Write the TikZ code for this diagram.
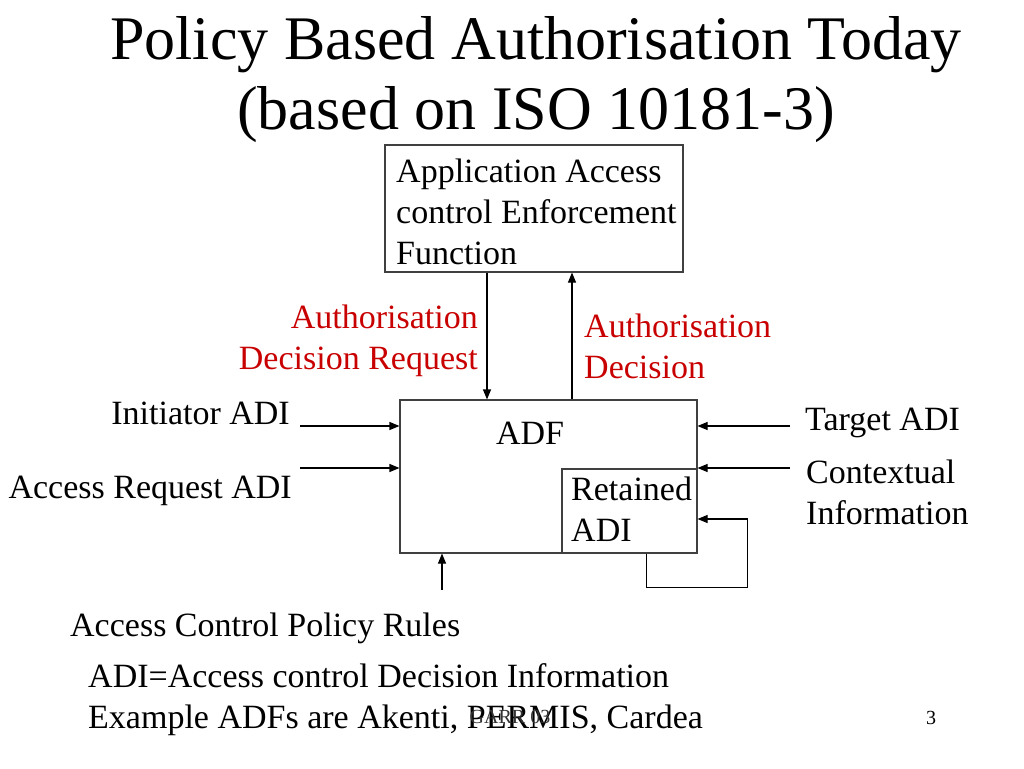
\documentclass[tikz,border=0pt]{standalone}
\usepackage{fontspec}
\setmainfont{Liberation Serif}
\usetikzlibrary{arrows.meta,calc}
\definecolor{adired}{RGB}{200,0,0}

\begin{document}
\begin{tikzpicture}[x=1pt,y=-1pt,>={Triangle[length=10pt,width=8pt]},
    box/.style={draw=black!75, line width=1.1pt, inner sep=0pt},
    txt/.style={inner sep=0pt, font=\fontsize{34}{41}\selectfont},
    red/.style={txt, text=adired},
    link/.style={line width=1.1pt, ->}]
  \useasboundingbox (0,0) rectangle (1024,768);
  \node[align=center, inner sep=0pt, font=\fontsize{62}{70}\selectfont] (title) at (536,80)
    {Policy Based Authorisation Today\\(based on ISO 10181-3)};
  \node[box, minimum width=298pt, minimum height=127pt] (aef) at (534,208.5) {};
  \node[txt, anchor=west, align=left] (aeftxt) at (396,212)
    {Application Access\\control Enforcement\\Function};
  \node[box, minimum width=297pt, minimum height=153pt] (adf) at (548.5,476.5) {};
  \node[txt] (adflbl) at (530,433) {ADF};
  \node[box, minimum width=135pt, minimum height=84pt] (ret) at (629.5,511) {};
  \node[txt, anchor=west, align=left] (rettxt) at (571,509) {Retained\\ADI};
  \node[red, anchor=east, align=right] (req) at (478,341) {Authorisation\\Decision Request};
  \node[red, anchor=west, align=left] (dec) at (584,346) {Authorisation\\Decision};
  \node[txt, anchor=east] (init) at (290,413) {Initiator ADI};
  \node[txt, anchor=east] (accreq) at (292,491) {Access Request ADI};
  \node[txt, anchor=west] (target) at (805,423) {Target ADI};
  \node[txt, anchor=west, align=left] (ctx) at (806,492) {Contextual\\Information};
  \node[txt, anchor=west] (rules) at (70,628) {Access Control Policy Rules};
  \node[txt, anchor=west, align=left] (note) at (88,700)
    {ADI=Access control Decision Information\\Example ADFs are Akenti, PERMIS, Cardea};
  \node[inner sep=0pt, text=black!80, font=\fontsize{20}{24}\selectfont] (foot) at (510,717) {GARR 03};
  \node[inner sep=0pt, font=\fontsize{20}{24}\selectfont] (page) at (931,718) {3};
  % arrows
  \coordinate (ia) at (300,426);
  \coordinate (ar) at (300,468);
  \coordinate (ta) at (790,426);
  \coordinate (ci) at (790,468);
  \coordinate (pr) at (442,590);
  \draw[link] ([xshift=-47pt]aef.south) -- ([xshift=-47pt]aef.south |- adf.north);
  \draw[link] ([xshift=38pt]aef.south |- adf.north) -- ([xshift=38pt]aef.south);
  \draw[link] (ia) -- (ia -| adf.west);
  \draw[link] (ar) -- (ar -| adf.west);
  \draw[link] (ta) -- (ta -| adf.east);
  \draw[link] (ci) -- (ci -| adf.east);
  \draw[link] (pr) -- (pr |- adf.south);
  \draw[link] ([xshift=17pt]ret.south) -- ++(0,34) -- ++(101,0) |- ([yshift=-8pt]ret.east);
\end{tikzpicture}
\end{document}
